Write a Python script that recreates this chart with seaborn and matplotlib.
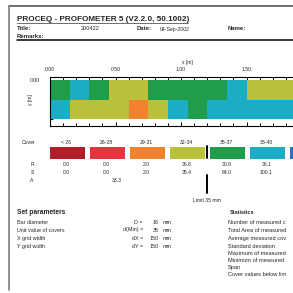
import matplotlib
matplotlib.use("Agg")
import matplotlib.pyplot as plt
import matplotlib.transforms as mtransforms
from matplotlib.colors import ListedColormap, BoundaryNorm
from matplotlib.lines import Line2D
import numpy as np
import seaborn as sns

# cover classes (mm) and their colours; the last class (> 40) has its label off the page
class_labels = ["< 26", "26-28", "29-31", "32-34", "35-37", "38-40"]
class_bounds = [0, 26, 29, 32, 35, 38, 41, 100]
class_colors = ["#b01e28", "#e8343f", "#f3822f", "#b9c13a", "#1f9d4b", "#1cadc6", "#2b6fc4"]
r_values = ["0.0", "0.0", "2.0", "36.6", "30.6", "36.1"]
s_values = ["0.0", "0.0", "2.0", "35.4", "64.0", "100.1"]
a_value = "33.3"
limit_class = 4  # boundary 35 mm

# measured cover per grid cell (mm), grid 150 mm
grid_step = 0.15
cover_row1 = [36, 39, 36, 33, 33, 36, 36, 36, 36, 39, 33, 33, 33, 33]
cover_row2 = [39, 33, 33, 33, 30, 33, 39, 36, 39, 39, 39, 39, 39, 39]

param_names = ["Bar diameter", "Unit value of covers", "X grid width", "Y grid width"]
param_symbols = ["D =", "d(Min) =", "dX =", "dY ="]
param_values = ["16", "35", "150", "150"]
# statistics labels as far as they are visible on the cropped page
stat_names = ["Number of measured c", "Total Area of measured",
              "Average measured cov", "Standard deviation",
              "Maximum of measured", "Minimum of measured",
              "Span", "Cover values below lim"]

sns.set_style("white")
plt.rcParams["font.family"] = ["Liberation Sans", "DejaVu Sans"]

W = H = 293.0


def fx(x):
    return x / W


def fy(y):
    return 1 - y / H


fig = plt.figure(figsize=(2.93, 2.93), dpi=100)
fig.patch.set_facecolor("white")

# page frame
fig.add_artist(Line2D([fx(8.5), 1], [fy(6), fy(6)], color="#555555", lw=1.2))
fig.add_artist(Line2D([fx(8.5), fx(8.5)], [fy(6), fy(290)], color="#888888", lw=1.3))
fig.add_artist(Line2D([fx(17), 1], [fy(40), fy(40)], color="black", lw=1.1))
fig.add_artist(Line2D([fx(17), fx(188)], [fy(23), fy(23)], color="#333333", lw=0.5))

# header
fig.text(fx(17), fy(19.5), "PROCEQ - PROFOMETER 5 (V2.2.0, 50.1002)",
         size=5.85, weight="bold", va="center")
hdr = dict(size=4.3, va="center")
fig.text(fx(17), fy(29), "Title:", weight="bold", **hdr)
fig.text(fx(81), fy(29), "300422", size=4.1, va="center")
fig.text(fx(137), fy(29), "Date:", weight="bold", **hdr)
fig.text(fx(160), fy(29), "04-Sep-2002", size=3.7, va="center")
fig.text(fx(228), fy(29), "Name:", weight="bold", **hdr)
fig.text(fx(17), fy(36), "Remarks:", weight="bold", **hdr)

# cover map
grid = np.array([cover_row1, cover_row2])
cmap = ListedColormap(class_colors)
norm = BoundaryNorm(class_bounds, cmap.N)

ax = fig.add_axes([fx(50), fy(126), (312 - 50) / W, (126 - 77) / H])
sns.heatmap(grid, ax=ax, cmap=cmap, norm=norm, cbar=False,
            xticklabels=False, yticklabels=False)
ax.set_xlim(0, 2.0 / grid_step)
ax.set_ylim(0.351 / grid_step, -0.023 / grid_step)
for sp in ax.spines.values():
    sp.set_visible(True)
    sp.set_color("black")
    sp.set_linewidth(0.8)
major_x = [0.0, 0.5, 1.0, 1.5]
ax.set_xticks(np.array(major_x) / grid_step)
ax.set_xticklabels([f"{v:.2f}" for v in major_x])
ax.set_xticks(np.arange(0, 2.01, 0.1) / grid_step, minor=True)
ax.set_yticks([0])
ax.set_yticklabels(["0.00"])
ax.set_yticks(np.array([0.1, 0.2, 0.3]) / grid_step, minor=True)
ax.tick_params(which="both", direction="in", top=True, bottom=True, left=True,
               right=False, labeltop=True, labelbottom=False, width=0.7,
               color="black", labelsize=3.7)
ax.tick_params(which="major", length=3.2)
ax.tick_params(which="minor", length=2.2)
ax.tick_params(axis="x", pad=3.5)
ax.tick_params(axis="y", pad=7.5)
ax.set_xlabel("x [m]", size=3.5)
ax.xaxis.set_label_coords((187 - 50) / 262, (126 - 60) / 49)
ax.set_ylabel("y [m]", size=3.5)
ax.yaxis.set_label_coords((33 - 50) / 262, (126 - 100) / 49)

# legend boxes
ax_leg = fig.add_axes([fx(46.5), fy(160.5), 280 / W, 17 / H])
sns.heatmap(np.arange(len(class_colors))[None, :], ax=ax_leg, cmap=cmap,
            vmin=-0.5, vmax=len(class_colors) - 0.5, cbar=False,
            linewidths=3.6, linecolor="white",
            xticklabels=False, yticklabels=False)
ax_leg.set_xticks([])
ax_leg.set_yticks([])

trans = mtransforms.blended_transform_factory(ax_leg.transData, fig.transFigure)
small = dict(size=3.7, va="center", ha="center")
fig.text(fx(29), fy(142), "Cover", **small)
for i, lab in enumerate(class_labels):
    fig.text(i + 0.5, fy(142), lab, transform=trans, **small)
fig.text(fx(32), fy(164), "R", **small)
fig.text(fx(32), fy(172.5), "S", **small)
fig.text(fx(32), fy(181), "A", **small)
for i, (r, s) in enumerate(zip(r_values, s_values)):
    fig.text(i + 0.5, fy(164), r, transform=trans, **small)
    fig.text(i + 0.5, fy(172.5), s, transform=trans, **small)
fig.text(1.76, fy(181), a_value, transform=trans, **small)
fig.add_artist(Line2D([limit_class, limit_class], [fy(146), fy(158)],
                      transform=trans, color="black", lw=1.4))
fig.add_artist(Line2D([limit_class, limit_class], [fy(175), fy(193)],
                      transform=trans, color="black", lw=1.4))
fig.text(limit_class, fy(201), "Limit 35 mm", transform=trans, **small)

# set parameters
body = dict(size=3.9, va="center")
fig.text(fx(17), fy(213), "Set parameters", weight="bold", size=4.8, va="center")
param_rows = [222, 230, 238.5, 246.5]
for y, name, sym, val in zip(param_rows, param_names, param_symbols, param_values):
    fig.text(fx(17), fy(y), name, **body)
    fig.text(fx(143), fy(y), sym, ha="right", **body)
    fig.text(fx(159), fy(y), val, ha="right", **body)
    fig.text(fx(163), fy(y), "mm", **body)

# statistics
fig.text(fx(230), fy(213), "Statistics", weight="bold", size=4.0, va="center")
stat_rows = [222, 230, 238.5, 246.5, 253.5, 260.5, 267.5, 274.5]
for y, name in zip(stat_rows, stat_names):
    fig.text(fx(228), fy(y), name, size=4.1, va="center")

fig.savefig("out.png", dpi=100)
